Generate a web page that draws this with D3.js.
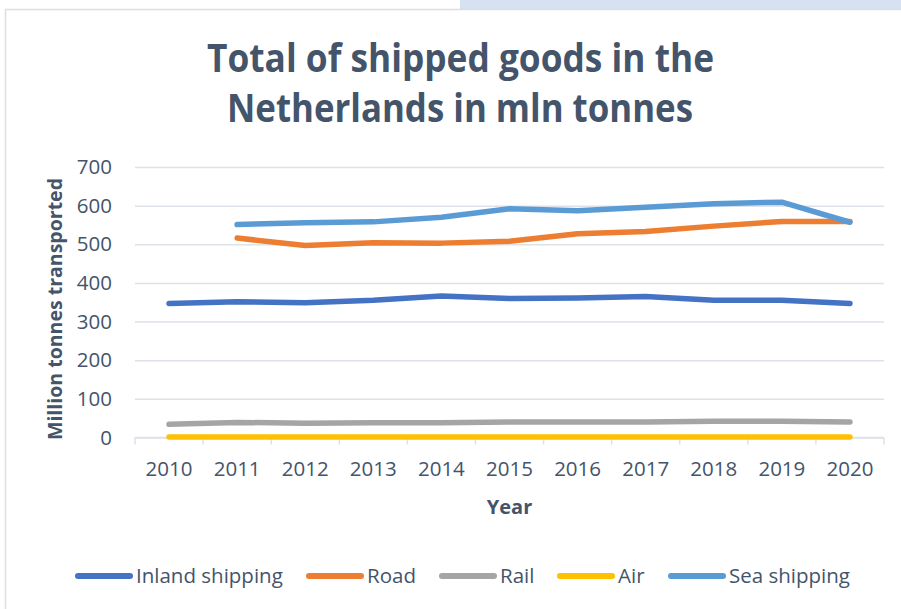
<!DOCTYPE html>
<html>
<head>
<meta charset="utf-8">
<script src="https://cdn.jsdelivr.net/npm/d3@7"></script>
<style>
    body { margin: 0; background: #fff; }
    svg { display: block; }
</style>
</head>
<body>
<script>
// valeurs (millions de tonnes)
const years = ["2010","2011","2012","2013","2014","2015","2016","2017","2018","2019","2020"];
const inland = [347, 351, 349, 355, 366, 360, 361, 365, 355, 355, 347];
const road = [null, 516, 497, 504, 503, 508, 527, 533, 547, 559, 559];
const rail = [34, 39, 37, 38, 38, 40, 40, 40, 42, 42, 40];
const air = [1.6, 1.6, 1.6, 1.6, 1.6, 1.6, 1.6, 1.6, 1.6, 1.6, 1.6];
const sea = [null, 551, 556, 558, 570, 592, 587, 596, 605, 609, 557];
const yTicks = [0, 100, 200, 300, 400, 500, 600, 700];

const seriesNames = ["Inland shipping", "Road", "Rail", "Air", "Sea shipping"];
const seriesValues = [inland, road, rail, air, sea];
const seriesColors = ["#4472C4", "#ED7D31", "#A5A5A5", "#FFC000", "#5B9BD5"];

const width = 901, height = 609;
const textColor = "#44546A";
const gridColor = "#DDE1E8";
const fontSize = 20.5;
// zone de tracé
const plotLeft = 135, plotRight = 884, plotTop = 167, plotBottom = 437.5;

const svg = d3.select("body").append("svg")
    .attr("width", width)
    .attr("height", height)
    .style("font-family", "'Open Sans', sans-serif");

// bandeau du fond et cadre du graphique
svg.append("rect")
    .attr("x", 460).attr("y", 0)
    .attr("width", width - 460).attr("height", 10)
    .attr("fill", "#D6E2F1");
svg.append("rect")
    .attr("x", 5.5).attr("y", 9.5)
    .attr("width", width).attr("height", height)
    .attr("fill", "#fff")
    .attr("stroke", "#DADEE5")
    .attr("stroke-width", 1.5);

// titre
const title = svg.append("g")
    .attr("fill", textColor)
    .attr("font-weight", 700)
    .attr("font-size", 39.5)
    .attr("text-anchor", "middle");
title.append("text")
    .attr("x", 460.5).attr("y", 71.5)
    .attr("textLength", 507).attr("lengthAdjust", "spacingAndGlyphs")
    .text("Total of shipped goods in the");
title.append("text")
    .attr("x", 460).attr("y", 122)
    .attr("textLength", 466).attr("lengthAdjust", "spacingAndGlyphs")
    .text("Netherlands in mln tonnes");

const x = d3.scaleBand()
    .domain(years)
    .range([plotLeft, plotRight]);
const y = d3.scaleLinear()
    .domain([0, 700])
    .range([plotBottom, plotTop]);

// grille horizontale + graduations Y
svg.append("g")
    .attr("transform", `translate(${plotLeft},0)`)
    .call(d3.axisLeft(y).tickValues(yTicks).tickSize(-(plotRight - plotLeft)).tickPadding(23))
    .call(g => g.select(".domain").remove())
    .call(g => g.selectAll(".tick line").attr("stroke", gridColor).attr("stroke-width", 1.5))
    .call(g => g.selectAll(".tick text")
        .attr("fill", textColor)
        .attr("font-size", fontSize)
        .attr("font-family", "'Open Sans', sans-serif"));

// axe X : traits entre les catégories
const xAxis = svg.append("g")
    .attr("transform", `translate(0,${plotBottom})`);
xAxis.append("line")
    .attr("x1", plotLeft).attr("x2", plotRight)
    .attr("stroke", gridColor).attr("stroke-width", 1.5);
xAxis.selectAll("line.tk")
    .data(years.concat(["end"]))
    .join("line")
    .attr("class", "tk")
    .attr("x1", (d, i) => i < years.length ? x(d) : plotRight)
    .attr("x2", (d, i) => i < years.length ? x(d) : plotRight)
    .attr("y1", 0).attr("y2", 7)
    .attr("stroke", gridColor).attr("stroke-width", 1.5);
xAxis.selectAll("text")
    .data(years)
    .join("text")
    .attr("x", d => x(d) + x.bandwidth() / 2)
    .attr("y", 38.5)
    .attr("text-anchor", "middle")
    .attr("fill", textColor)
    .attr("font-size", fontSize)
    .text(d => d);

// titres des axes
svg.append("text")
    .attr("x", plotLeft + (plotRight - plotLeft) / 2)
    .attr("y", 514)
    .attr("text-anchor", "middle")
    .attr("fill", textColor)
    .attr("font-weight", 700)
    .attr("font-size", 20)
    .text("Year");
svg.append("text")
    .attr("transform", "translate(62,309) rotate(-90)")
    .attr("text-anchor", "middle")
    .attr("fill", textColor)
    .attr("font-weight", 700)
    .attr("font-size", 19)
    .attr("textLength", 262).attr("lengthAdjust", "spacingAndGlyphs")
    .text("Million tonnes transported");

// séries
const line = d3.line()
    .defined(d => d.v !== null)
    .x(d => x(d.year) + x.bandwidth() / 2)
    .y(d => y(d.v));

svg.append("g")
    .selectAll("path")
    .data(seriesValues.map((vals, i) => ({
        name: seriesNames[i],
        color: seriesColors[i],
        pts: years.map((yr, j) => ({ year: yr, v: vals[j] }))
    })))
    .join("path")
    .attr("fill", "none")
    .attr("stroke", d => d.color)
    .attr("stroke-width", 5.5)
    .attr("stroke-linecap", "round")
    .attr("stroke-linejoin", "round")
    .attr("d", d => line(d.pts));

// légende
const legendX = [76, 307, 440, 558, 669];
const legend = svg.append("g")
    .selectAll("g")
    .data(seriesNames)
    .join("g")
    .attr("transform", (d, i) => `translate(${legendX[i]},576)`);
legend.append("line")
    .attr("x1", 2).attr("x2", 54)
    .attr("stroke", (d, i) => seriesColors[i])
    .attr("stroke-width", 6)
    .attr("stroke-linecap", "round");
legend.append("text")
    .attr("x", 60)
    .attr("dy", "0.35em")
    .attr("fill", textColor)
    .attr("font-size", fontSize)
    .text(d => d);
</script>
</body>
</html>
